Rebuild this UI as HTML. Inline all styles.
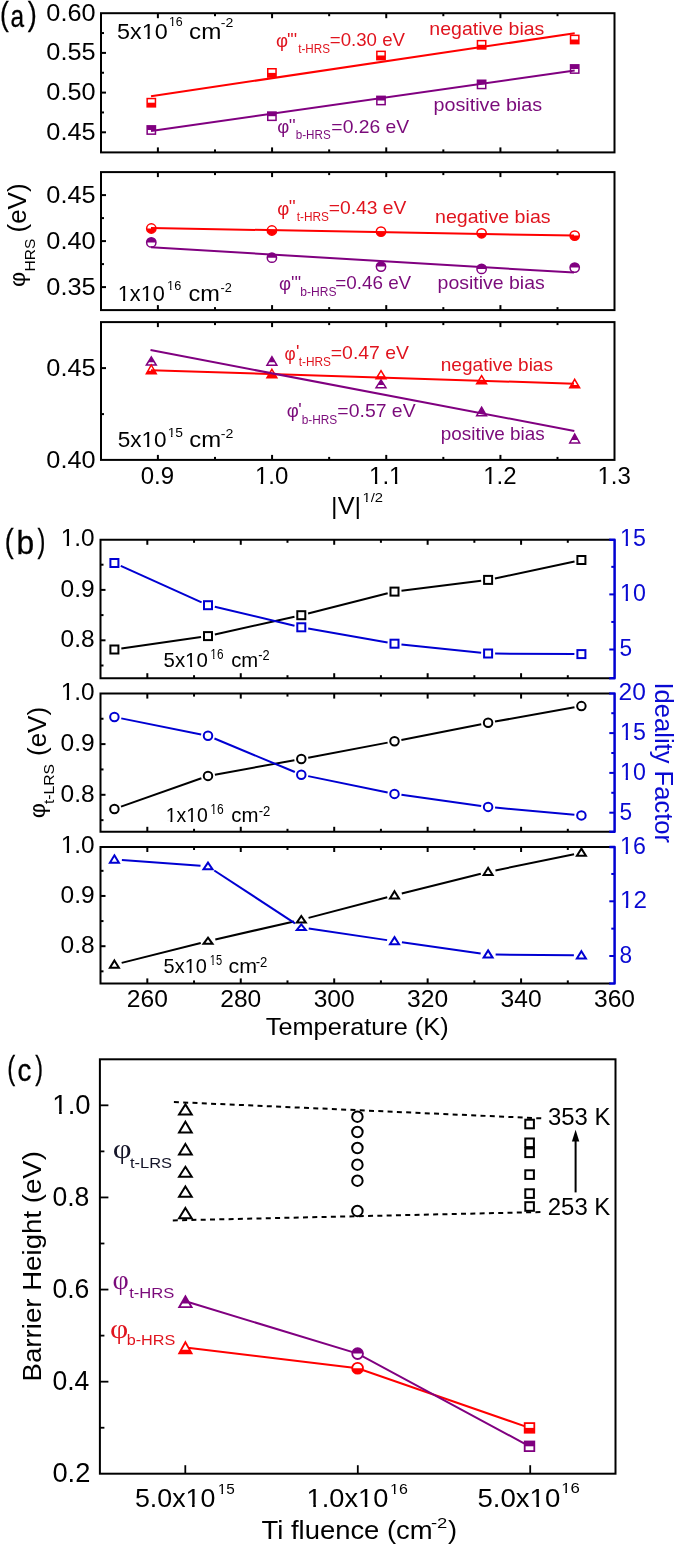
<!DOCTYPE html>
<html><head><meta charset="utf-8"><title>figure</title>
<style>html,body{margin:0;padding:0;background:#fff;} svg{display:block;will-change:transform;}</style></head>
<body><svg width="675" height="1546" viewBox="0 0 675 1546">
<rect x="0" y="0" width="675" height="1546" fill="#fff"/>
<line x1="101.00" y1="52.90" x2="106.00" y2="52.90" stroke="#000" stroke-width="2" />
<line x1="101.00" y1="92.60" x2="106.00" y2="92.60" stroke="#000" stroke-width="2" />
<line x1="101.00" y1="132.30" x2="106.00" y2="132.30" stroke="#000" stroke-width="2" />
<line x1="101.00" y1="33.05" x2="104.00" y2="33.05" stroke="#000" stroke-width="2" />
<line x1="101.00" y1="72.75" x2="104.00" y2="72.75" stroke="#000" stroke-width="2" />
<line x1="101.00" y1="112.45" x2="104.00" y2="112.45" stroke="#000" stroke-width="2" />
<line x1="157.89" y1="152.40" x2="157.89" y2="147.40" stroke="#000" stroke-width="2" />
<line x1="157.89" y1="13.20" x2="157.89" y2="18.20" stroke="#000" stroke-width="2" />
<line x1="272.07" y1="152.40" x2="272.07" y2="147.40" stroke="#000" stroke-width="2" />
<line x1="272.07" y1="13.20" x2="272.07" y2="18.20" stroke="#000" stroke-width="2" />
<line x1="386.24" y1="152.40" x2="386.24" y2="147.40" stroke="#000" stroke-width="2" />
<line x1="386.24" y1="13.20" x2="386.24" y2="18.20" stroke="#000" stroke-width="2" />
<line x1="500.42" y1="152.40" x2="500.42" y2="147.40" stroke="#000" stroke-width="2" />
<line x1="500.42" y1="13.20" x2="500.42" y2="18.20" stroke="#000" stroke-width="2" />
<line x1="214.98" y1="152.40" x2="214.98" y2="149.40" stroke="#000" stroke-width="2" />
<line x1="214.98" y1="13.20" x2="214.98" y2="16.20" stroke="#000" stroke-width="2" />
<line x1="329.16" y1="152.40" x2="329.16" y2="149.40" stroke="#000" stroke-width="2" />
<line x1="329.16" y1="13.20" x2="329.16" y2="16.20" stroke="#000" stroke-width="2" />
<line x1="443.33" y1="152.40" x2="443.33" y2="149.40" stroke="#000" stroke-width="2" />
<line x1="443.33" y1="13.20" x2="443.33" y2="16.20" stroke="#000" stroke-width="2" />
<line x1="557.51" y1="152.40" x2="557.51" y2="149.40" stroke="#000" stroke-width="2" />
<line x1="557.51" y1="13.20" x2="557.51" y2="16.20" stroke="#000" stroke-width="2" />
<line x1="101.00" y1="195.10" x2="106.00" y2="195.10" stroke="#000" stroke-width="2" />
<line x1="101.00" y1="241.10" x2="106.00" y2="241.10" stroke="#000" stroke-width="2" />
<line x1="101.00" y1="287.10" x2="106.00" y2="287.10" stroke="#000" stroke-width="2" />
<line x1="101.00" y1="218.10" x2="104.00" y2="218.10" stroke="#000" stroke-width="2" />
<line x1="101.00" y1="264.10" x2="104.00" y2="264.10" stroke="#000" stroke-width="2" />
<line x1="157.89" y1="310.10" x2="157.89" y2="305.10" stroke="#000" stroke-width="2" />
<line x1="157.89" y1="172.10" x2="157.89" y2="177.10" stroke="#000" stroke-width="2" />
<line x1="272.07" y1="310.10" x2="272.07" y2="305.10" stroke="#000" stroke-width="2" />
<line x1="272.07" y1="172.10" x2="272.07" y2="177.10" stroke="#000" stroke-width="2" />
<line x1="386.24" y1="310.10" x2="386.24" y2="305.10" stroke="#000" stroke-width="2" />
<line x1="386.24" y1="172.10" x2="386.24" y2="177.10" stroke="#000" stroke-width="2" />
<line x1="500.42" y1="310.10" x2="500.42" y2="305.10" stroke="#000" stroke-width="2" />
<line x1="500.42" y1="172.10" x2="500.42" y2="177.10" stroke="#000" stroke-width="2" />
<line x1="214.98" y1="310.10" x2="214.98" y2="307.10" stroke="#000" stroke-width="2" />
<line x1="214.98" y1="172.10" x2="214.98" y2="175.10" stroke="#000" stroke-width="2" />
<line x1="329.16" y1="310.10" x2="329.16" y2="307.10" stroke="#000" stroke-width="2" />
<line x1="329.16" y1="172.10" x2="329.16" y2="175.10" stroke="#000" stroke-width="2" />
<line x1="443.33" y1="310.10" x2="443.33" y2="307.10" stroke="#000" stroke-width="2" />
<line x1="443.33" y1="172.10" x2="443.33" y2="175.10" stroke="#000" stroke-width="2" />
<line x1="557.51" y1="310.10" x2="557.51" y2="307.10" stroke="#000" stroke-width="2" />
<line x1="557.51" y1="172.10" x2="557.51" y2="175.10" stroke="#000" stroke-width="2" />
<line x1="101.00" y1="368.10" x2="106.00" y2="368.10" stroke="#000" stroke-width="2" />
<line x1="101.00" y1="414.10" x2="104.00" y2="414.10" stroke="#000" stroke-width="2" />
<line x1="157.89" y1="459.90" x2="157.89" y2="454.90" stroke="#000" stroke-width="2" />
<line x1="157.89" y1="322.10" x2="157.89" y2="327.10" stroke="#000" stroke-width="2" />
<line x1="272.07" y1="459.90" x2="272.07" y2="454.90" stroke="#000" stroke-width="2" />
<line x1="272.07" y1="322.10" x2="272.07" y2="327.10" stroke="#000" stroke-width="2" />
<line x1="386.24" y1="459.90" x2="386.24" y2="454.90" stroke="#000" stroke-width="2" />
<line x1="386.24" y1="322.10" x2="386.24" y2="327.10" stroke="#000" stroke-width="2" />
<line x1="500.42" y1="459.90" x2="500.42" y2="454.90" stroke="#000" stroke-width="2" />
<line x1="500.42" y1="322.10" x2="500.42" y2="327.10" stroke="#000" stroke-width="2" />
<line x1="214.98" y1="459.90" x2="214.98" y2="456.90" stroke="#000" stroke-width="2" />
<line x1="214.98" y1="322.10" x2="214.98" y2="325.10" stroke="#000" stroke-width="2" />
<line x1="329.16" y1="459.90" x2="329.16" y2="456.90" stroke="#000" stroke-width="2" />
<line x1="329.16" y1="322.10" x2="329.16" y2="325.10" stroke="#000" stroke-width="2" />
<line x1="443.33" y1="459.90" x2="443.33" y2="456.90" stroke="#000" stroke-width="2" />
<line x1="443.33" y1="322.10" x2="443.33" y2="325.10" stroke="#000" stroke-width="2" />
<line x1="557.51" y1="459.90" x2="557.51" y2="456.90" stroke="#000" stroke-width="2" />
<line x1="557.51" y1="322.10" x2="557.51" y2="325.10" stroke="#000" stroke-width="2" />
<rect x="147.15" y="98.55" width="8.30" height="8.30" fill="#fff" stroke="none"/>
<rect x="147.15" y="102.70" width="8.30" height="4.15" fill="#ff0000"/>
<rect x="147.15" y="98.55" width="8.30" height="8.30" fill="none" stroke="#ff0000" stroke-width="1.5"/>
<rect x="267.75" y="68.75" width="8.30" height="8.30" fill="#fff" stroke="none"/>
<rect x="267.75" y="72.90" width="8.30" height="4.15" fill="#ff0000"/>
<rect x="267.75" y="68.75" width="8.30" height="8.30" fill="none" stroke="#ff0000" stroke-width="1.5"/>
<rect x="376.85" y="51.35" width="8.30" height="8.30" fill="#fff" stroke="none"/>
<rect x="376.85" y="55.50" width="8.30" height="4.15" fill="#ff0000"/>
<rect x="376.85" y="51.35" width="8.30" height="8.30" fill="none" stroke="#ff0000" stroke-width="1.5"/>
<rect x="477.45" y="40.65" width="8.30" height="8.30" fill="#fff" stroke="none"/>
<rect x="477.45" y="44.80" width="8.30" height="4.15" fill="#ff0000"/>
<rect x="477.45" y="40.65" width="8.30" height="8.30" fill="none" stroke="#ff0000" stroke-width="1.5"/>
<rect x="570.55" y="35.35" width="8.30" height="8.30" fill="#fff" stroke="none"/>
<rect x="570.55" y="39.50" width="8.30" height="4.15" fill="#ff0000"/>
<rect x="570.55" y="35.35" width="8.30" height="8.30" fill="none" stroke="#ff0000" stroke-width="1.5"/>
<rect x="147.15" y="125.85" width="8.30" height="8.30" fill="#fff" stroke="none"/>
<rect x="147.15" y="125.85" width="8.30" height="4.15" fill="#800080"/>
<rect x="147.15" y="125.85" width="8.30" height="8.30" fill="none" stroke="#800080" stroke-width="1.5"/>
<rect x="267.75" y="112.05" width="8.30" height="8.30" fill="#fff" stroke="none"/>
<rect x="267.75" y="112.05" width="8.30" height="4.15" fill="#800080"/>
<rect x="267.75" y="112.05" width="8.30" height="8.30" fill="none" stroke="#800080" stroke-width="1.5"/>
<rect x="376.85" y="96.35" width="8.30" height="8.30" fill="#fff" stroke="none"/>
<rect x="376.85" y="96.35" width="8.30" height="4.15" fill="#800080"/>
<rect x="376.85" y="96.35" width="8.30" height="8.30" fill="none" stroke="#800080" stroke-width="1.5"/>
<rect x="477.45" y="80.25" width="8.30" height="8.30" fill="#fff" stroke="none"/>
<rect x="477.45" y="80.25" width="8.30" height="4.15" fill="#800080"/>
<rect x="477.45" y="80.25" width="8.30" height="8.30" fill="none" stroke="#800080" stroke-width="1.5"/>
<rect x="570.55" y="64.85" width="8.30" height="8.30" fill="#fff" stroke="none"/>
<rect x="570.55" y="64.85" width="8.30" height="4.15" fill="#800080"/>
<rect x="570.55" y="64.85" width="8.30" height="8.30" fill="none" stroke="#800080" stroke-width="1.5"/>
<line x1="151.00" y1="96.20" x2="574.70" y2="33.20" stroke="#ff0000" stroke-width="2" />
<line x1="151.00" y1="131.00" x2="574.70" y2="70.40" stroke="#800080" stroke-width="2" />
<circle cx="151.30" cy="228.50" r="4.65" fill="#fff"/>
<path d="M146.65,228.50 A4.65,4.65 0 0 0 155.95,228.50 Z" fill="#ff0000"/>
<circle cx="151.30" cy="228.50" r="4.65" fill="none" stroke="#ff0000" stroke-width="1.5"/>
<circle cx="271.90" cy="230.50" r="4.65" fill="#fff"/>
<path d="M267.25,230.50 A4.65,4.65 0 0 0 276.55,230.50 Z" fill="#ff0000"/>
<circle cx="271.90" cy="230.50" r="4.65" fill="none" stroke="#ff0000" stroke-width="1.5"/>
<circle cx="381.00" cy="231.60" r="4.65" fill="#fff"/>
<path d="M376.35,231.60 A4.65,4.65 0 0 0 385.65,231.60 Z" fill="#ff0000"/>
<circle cx="381.00" cy="231.60" r="4.65" fill="none" stroke="#ff0000" stroke-width="1.5"/>
<circle cx="481.60" cy="233.30" r="4.65" fill="#fff"/>
<path d="M476.95,233.30 A4.65,4.65 0 0 0 486.25,233.30 Z" fill="#ff0000"/>
<circle cx="481.60" cy="233.30" r="4.65" fill="none" stroke="#ff0000" stroke-width="1.5"/>
<circle cx="574.70" cy="235.60" r="4.65" fill="#fff"/>
<path d="M570.05,235.60 A4.65,4.65 0 0 0 579.35,235.60 Z" fill="#ff0000"/>
<circle cx="574.70" cy="235.60" r="4.65" fill="none" stroke="#ff0000" stroke-width="1.5"/>
<circle cx="151.30" cy="242.40" r="4.65" fill="#fff"/>
<path d="M146.65,242.40 A4.65,4.65 0 0 1 155.95,242.40 Z" fill="#800080"/>
<circle cx="151.30" cy="242.40" r="4.65" fill="none" stroke="#800080" stroke-width="1.5"/>
<circle cx="271.90" cy="257.70" r="4.65" fill="#fff"/>
<path d="M267.25,257.70 A4.65,4.65 0 0 1 276.55,257.70 Z" fill="#800080"/>
<circle cx="271.90" cy="257.70" r="4.65" fill="none" stroke="#800080" stroke-width="1.5"/>
<circle cx="381.00" cy="266.60" r="4.65" fill="#fff"/>
<path d="M376.35,266.60 A4.65,4.65 0 0 1 385.65,266.60 Z" fill="#800080"/>
<circle cx="381.00" cy="266.60" r="4.65" fill="none" stroke="#800080" stroke-width="1.5"/>
<circle cx="481.60" cy="268.90" r="4.65" fill="#fff"/>
<path d="M476.95,268.90 A4.65,4.65 0 0 1 486.25,268.90 Z" fill="#800080"/>
<circle cx="481.60" cy="268.90" r="4.65" fill="none" stroke="#800080" stroke-width="1.5"/>
<circle cx="574.70" cy="267.60" r="4.65" fill="#fff"/>
<path d="M570.05,267.60 A4.65,4.65 0 0 1 579.35,267.60 Z" fill="#800080"/>
<circle cx="574.70" cy="267.60" r="4.65" fill="none" stroke="#800080" stroke-width="1.5"/>
<line x1="151.00" y1="228.00" x2="574.00" y2="235.60" stroke="#ff0000" stroke-width="2" />
<line x1="151.00" y1="247.30" x2="574.00" y2="272.60" stroke="#800080" stroke-width="2" />
<polygon points="151.30,357.00 156.25,365.05 146.35,365.05" fill="#fff"/>
<polygon points="151.30,357.00 154.60,362.37 148.00,362.37" fill="#800080"/>
<polygon points="151.30,357.00 156.25,365.05 146.35,365.05" fill="none" stroke="#800080" stroke-width="1.5" stroke-linejoin="miter"/>
<polygon points="271.90,356.70 276.85,365.15 266.95,365.15" fill="#fff"/>
<polygon points="271.90,356.70 275.20,362.33 268.60,362.33" fill="#800080"/>
<polygon points="271.90,356.70 276.85,365.15 266.95,365.15" fill="none" stroke="#800080" stroke-width="1.5" stroke-linejoin="miter"/>
<polygon points="381.00,379.90 385.95,387.65 376.05,387.65" fill="#fff"/>
<polygon points="381.00,379.90 384.30,385.07 377.70,385.07" fill="#800080"/>
<polygon points="381.00,379.90 385.95,387.65 376.05,387.65" fill="none" stroke="#800080" stroke-width="1.5" stroke-linejoin="miter"/>
<polygon points="481.60,407.20 486.55,415.85 476.65,415.85" fill="#fff"/>
<polygon points="481.60,407.20 484.90,412.97 478.30,412.97" fill="#800080"/>
<polygon points="481.60,407.20 486.55,415.85 476.65,415.85" fill="none" stroke="#800080" stroke-width="1.5" stroke-linejoin="miter"/>
<polygon points="574.70,434.00 579.65,442.95 569.75,442.95" fill="#fff"/>
<polygon points="574.70,434.00 578.00,439.97 571.40,439.97" fill="#800080"/>
<polygon points="574.70,434.00 579.65,442.95 569.75,442.95" fill="none" stroke="#800080" stroke-width="1.5" stroke-linejoin="miter"/>
<polygon points="151.30,365.00 156.25,373.65 146.35,373.65" fill="#fff"/>
<polygon points="148.00,370.77 154.60,370.77 156.25,373.65 146.35,373.65" fill="#ff0000"/>
<polygon points="151.30,365.00 156.25,373.65 146.35,373.65" fill="none" stroke="#ff0000" stroke-width="1.5" stroke-linejoin="miter"/>
<polygon points="271.90,369.30 276.85,377.65 266.95,377.65" fill="#fff"/>
<polygon points="268.60,374.87 275.20,374.87 276.85,377.65 266.95,377.65" fill="#ff0000"/>
<polygon points="271.90,369.30 276.85,377.65 266.95,377.65" fill="none" stroke="#ff0000" stroke-width="1.5" stroke-linejoin="miter"/>
<polygon points="381.00,370.70 385.95,378.85 376.05,378.85" fill="#fff"/>
<polygon points="377.70,376.13 384.30,376.13 385.95,378.85 376.05,378.85" fill="#ff0000"/>
<polygon points="381.00,370.70 385.95,378.85 376.05,378.85" fill="none" stroke="#ff0000" stroke-width="1.5" stroke-linejoin="miter"/>
<polygon points="481.60,375.70 486.55,383.85 476.65,383.85" fill="#fff"/>
<polygon points="478.30,381.13 484.90,381.13 486.55,383.85 476.65,383.85" fill="#ff0000"/>
<polygon points="481.60,375.70 486.55,383.85 476.65,383.85" fill="none" stroke="#ff0000" stroke-width="1.5" stroke-linejoin="miter"/>
<polygon points="574.70,379.30 579.65,387.85 569.75,387.85" fill="#fff"/>
<polygon points="571.40,385.00 578.00,385.00 579.65,387.85 569.75,387.85" fill="#ff0000"/>
<polygon points="574.70,379.30 579.65,387.85 569.75,387.85" fill="none" stroke="#ff0000" stroke-width="1.5" stroke-linejoin="miter"/>
<line x1="151.00" y1="370.20" x2="574.00" y2="383.70" stroke="#ff0000" stroke-width="2" />
<line x1="150.50" y1="350.10" x2="574.30" y2="431.00" stroke="#800080" stroke-width="2" />
<rect x="101.00" y="13.20" width="513.50" height="139.20" fill="none" stroke="#000" stroke-width="2"/>
<rect x="101.00" y="172.10" width="513.50" height="138.00" fill="none" stroke="#000" stroke-width="2"/>
<rect x="101.00" y="322.10" width="513.50" height="137.80" fill="none" stroke="#000" stroke-width="2"/>
<text id="yla_phi" transform="translate(25.0,287.0) rotate(-90)" font-size="22" font-family="'Liberation Sans', sans-serif" textLength="15.2" lengthAdjust="spacingAndGlyphs">φ</text>
<text id="yla_sub" transform="translate(34.5,271.5) rotate(-90)" font-size="15.5" font-family="'Liberation Sans', sans-serif">HRS</text>
<text id="yla_ev" transform="translate(25.7,232.5) rotate(-90)" font-size="26" font-family="'Liberation Sans', sans-serif">(eV)</text>
<line x1="100.50" y1="589.90" x2="105.50" y2="589.90" stroke="#000" stroke-width="2" />
<line x1="100.50" y1="640.30" x2="105.50" y2="640.30" stroke="#000" stroke-width="2" />
<line x1="100.50" y1="564.70" x2="103.50" y2="564.70" stroke="#000" stroke-width="2" />
<line x1="100.50" y1="615.10" x2="103.50" y2="615.10" stroke="#000" stroke-width="2" />
<line x1="100.50" y1="665.50" x2="103.50" y2="665.50" stroke="#000" stroke-width="2" />
<line x1="614.30" y1="594.40" x2="609.30" y2="594.40" stroke="#0000d2" stroke-width="2" />
<line x1="614.30" y1="649.50" x2="609.30" y2="649.50" stroke="#0000d2" stroke-width="2" />
<line x1="614.30" y1="566.85" x2="611.30" y2="566.85" stroke="#0000d2" stroke-width="2" />
<line x1="614.30" y1="621.95" x2="611.30" y2="621.95" stroke="#0000d2" stroke-width="2" />
<line x1="147.32" y1="678.20" x2="147.32" y2="673.20" stroke="#000" stroke-width="2" />
<line x1="147.32" y1="539.80" x2="147.32" y2="544.80" stroke="#000" stroke-width="2" />
<line x1="240.76" y1="678.20" x2="240.76" y2="673.20" stroke="#000" stroke-width="2" />
<line x1="240.76" y1="539.80" x2="240.76" y2="544.80" stroke="#000" stroke-width="2" />
<line x1="334.20" y1="678.20" x2="334.20" y2="673.20" stroke="#000" stroke-width="2" />
<line x1="334.20" y1="539.80" x2="334.20" y2="544.80" stroke="#000" stroke-width="2" />
<line x1="427.64" y1="678.20" x2="427.64" y2="673.20" stroke="#000" stroke-width="2" />
<line x1="427.64" y1="539.80" x2="427.64" y2="544.80" stroke="#000" stroke-width="2" />
<line x1="521.08" y1="678.20" x2="521.08" y2="673.20" stroke="#000" stroke-width="2" />
<line x1="521.08" y1="539.80" x2="521.08" y2="544.80" stroke="#000" stroke-width="2" />
<line x1="194.04" y1="678.20" x2="194.04" y2="675.20" stroke="#000" stroke-width="2" />
<line x1="194.04" y1="539.80" x2="194.04" y2="542.80" stroke="#000" stroke-width="2" />
<line x1="287.48" y1="678.20" x2="287.48" y2="675.20" stroke="#000" stroke-width="2" />
<line x1="287.48" y1="539.80" x2="287.48" y2="542.80" stroke="#000" stroke-width="2" />
<line x1="380.92" y1="678.20" x2="380.92" y2="675.20" stroke="#000" stroke-width="2" />
<line x1="380.92" y1="539.80" x2="380.92" y2="542.80" stroke="#000" stroke-width="2" />
<line x1="474.36" y1="678.20" x2="474.36" y2="675.20" stroke="#000" stroke-width="2" />
<line x1="474.36" y1="539.80" x2="474.36" y2="542.80" stroke="#000" stroke-width="2" />
<line x1="567.80" y1="678.20" x2="567.80" y2="675.20" stroke="#000" stroke-width="2" />
<line x1="567.80" y1="539.80" x2="567.80" y2="542.80" stroke="#000" stroke-width="2" />
<line x1="100.50" y1="744.10" x2="105.50" y2="744.10" stroke="#000" stroke-width="2" />
<line x1="100.50" y1="794.80" x2="105.50" y2="794.80" stroke="#000" stroke-width="2" />
<line x1="100.50" y1="718.75" x2="103.50" y2="718.75" stroke="#000" stroke-width="2" />
<line x1="100.50" y1="769.45" x2="103.50" y2="769.45" stroke="#000" stroke-width="2" />
<line x1="100.50" y1="820.15" x2="103.50" y2="820.15" stroke="#000" stroke-width="2" />
<line x1="614.30" y1="733.10" x2="609.30" y2="733.10" stroke="#0000d2" stroke-width="2" />
<line x1="614.30" y1="772.90" x2="609.30" y2="772.90" stroke="#0000d2" stroke-width="2" />
<line x1="614.30" y1="812.70" x2="609.30" y2="812.70" stroke="#0000d2" stroke-width="2" />
<line x1="614.30" y1="713.20" x2="611.30" y2="713.20" stroke="#0000d2" stroke-width="2" />
<line x1="614.30" y1="753.00" x2="611.30" y2="753.00" stroke="#0000d2" stroke-width="2" />
<line x1="614.30" y1="792.80" x2="611.30" y2="792.80" stroke="#0000d2" stroke-width="2" />
<line x1="147.32" y1="831.80" x2="147.32" y2="826.80" stroke="#000" stroke-width="2" />
<line x1="147.32" y1="693.60" x2="147.32" y2="698.60" stroke="#000" stroke-width="2" />
<line x1="240.76" y1="831.80" x2="240.76" y2="826.80" stroke="#000" stroke-width="2" />
<line x1="240.76" y1="693.60" x2="240.76" y2="698.60" stroke="#000" stroke-width="2" />
<line x1="334.20" y1="831.80" x2="334.20" y2="826.80" stroke="#000" stroke-width="2" />
<line x1="334.20" y1="693.60" x2="334.20" y2="698.60" stroke="#000" stroke-width="2" />
<line x1="427.64" y1="831.80" x2="427.64" y2="826.80" stroke="#000" stroke-width="2" />
<line x1="427.64" y1="693.60" x2="427.64" y2="698.60" stroke="#000" stroke-width="2" />
<line x1="521.08" y1="831.80" x2="521.08" y2="826.80" stroke="#000" stroke-width="2" />
<line x1="521.08" y1="693.60" x2="521.08" y2="698.60" stroke="#000" stroke-width="2" />
<line x1="194.04" y1="831.80" x2="194.04" y2="828.80" stroke="#000" stroke-width="2" />
<line x1="194.04" y1="693.60" x2="194.04" y2="696.60" stroke="#000" stroke-width="2" />
<line x1="287.48" y1="831.80" x2="287.48" y2="828.80" stroke="#000" stroke-width="2" />
<line x1="287.48" y1="693.60" x2="287.48" y2="696.60" stroke="#000" stroke-width="2" />
<line x1="380.92" y1="831.80" x2="380.92" y2="828.80" stroke="#000" stroke-width="2" />
<line x1="380.92" y1="693.60" x2="380.92" y2="696.60" stroke="#000" stroke-width="2" />
<line x1="474.36" y1="831.80" x2="474.36" y2="828.80" stroke="#000" stroke-width="2" />
<line x1="474.36" y1="693.60" x2="474.36" y2="696.60" stroke="#000" stroke-width="2" />
<line x1="567.80" y1="831.80" x2="567.80" y2="828.80" stroke="#000" stroke-width="2" />
<line x1="567.80" y1="693.60" x2="567.80" y2="696.60" stroke="#000" stroke-width="2" />
<line x1="100.50" y1="895.95" x2="105.50" y2="895.95" stroke="#000" stroke-width="2" />
<line x1="100.50" y1="946.20" x2="105.50" y2="946.20" stroke="#000" stroke-width="2" />
<line x1="100.50" y1="870.83" x2="103.50" y2="870.83" stroke="#000" stroke-width="2" />
<line x1="100.50" y1="921.08" x2="103.50" y2="921.08" stroke="#000" stroke-width="2" />
<line x1="100.50" y1="971.33" x2="103.50" y2="971.33" stroke="#000" stroke-width="2" />
<line x1="614.30" y1="901.30" x2="609.30" y2="901.30" stroke="#0000d2" stroke-width="2" />
<line x1="614.30" y1="956.00" x2="609.30" y2="956.00" stroke="#0000d2" stroke-width="2" />
<line x1="614.30" y1="873.95" x2="611.30" y2="873.95" stroke="#0000d2" stroke-width="2" />
<line x1="614.30" y1="928.65" x2="611.30" y2="928.65" stroke="#0000d2" stroke-width="2" />
<line x1="147.32" y1="983.40" x2="147.32" y2="978.40" stroke="#000" stroke-width="2" />
<line x1="147.32" y1="847.00" x2="147.32" y2="852.00" stroke="#000" stroke-width="2" />
<line x1="240.76" y1="983.40" x2="240.76" y2="978.40" stroke="#000" stroke-width="2" />
<line x1="240.76" y1="847.00" x2="240.76" y2="852.00" stroke="#000" stroke-width="2" />
<line x1="334.20" y1="983.40" x2="334.20" y2="978.40" stroke="#000" stroke-width="2" />
<line x1="334.20" y1="847.00" x2="334.20" y2="852.00" stroke="#000" stroke-width="2" />
<line x1="427.64" y1="983.40" x2="427.64" y2="978.40" stroke="#000" stroke-width="2" />
<line x1="427.64" y1="847.00" x2="427.64" y2="852.00" stroke="#000" stroke-width="2" />
<line x1="521.08" y1="983.40" x2="521.08" y2="978.40" stroke="#000" stroke-width="2" />
<line x1="521.08" y1="847.00" x2="521.08" y2="852.00" stroke="#000" stroke-width="2" />
<line x1="194.04" y1="983.40" x2="194.04" y2="980.40" stroke="#000" stroke-width="2" />
<line x1="194.04" y1="847.00" x2="194.04" y2="850.00" stroke="#000" stroke-width="2" />
<line x1="287.48" y1="983.40" x2="287.48" y2="980.40" stroke="#000" stroke-width="2" />
<line x1="287.48" y1="847.00" x2="287.48" y2="850.00" stroke="#000" stroke-width="2" />
<line x1="380.92" y1="983.40" x2="380.92" y2="980.40" stroke="#000" stroke-width="2" />
<line x1="380.92" y1="847.00" x2="380.92" y2="850.00" stroke="#000" stroke-width="2" />
<line x1="474.36" y1="983.40" x2="474.36" y2="980.40" stroke="#000" stroke-width="2" />
<line x1="474.36" y1="847.00" x2="474.36" y2="850.00" stroke="#000" stroke-width="2" />
<line x1="567.80" y1="983.40" x2="567.80" y2="980.40" stroke="#000" stroke-width="2" />
<line x1="567.80" y1="847.00" x2="567.80" y2="850.00" stroke="#000" stroke-width="2" />
<line x1="121.33" y1="648.51" x2="201.07" y2="637.09" stroke="#000" stroke-width="2" />
<line x1="214.83" y1="634.57" x2="294.47" y2="616.73" stroke="#000" stroke-width="2" />
<line x1="308.09" y1="613.48" x2="387.71" y2="593.32" stroke="#000" stroke-width="2" />
<line x1="401.45" y1="590.73" x2="481.15" y2="580.77" stroke="#000" stroke-width="2" />
<line x1="494.95" y1="578.44" x2="574.55" y2="561.46" stroke="#000" stroke-width="2" />
<line x1="120.78" y1="565.88" x2="201.62" y2="602.32" stroke="#0000d2" stroke-width="2" />
<line x1="214.81" y1="606.81" x2="294.49" y2="625.69" stroke="#0000d2" stroke-width="2" />
<line x1="308.19" y1="628.51" x2="387.61" y2="642.49" stroke="#0000d2" stroke-width="2" />
<line x1="401.46" y1="644.43" x2="481.14" y2="652.77" stroke="#0000d2" stroke-width="2" />
<line x1="495.10" y1="653.55" x2="574.40" y2="654.05" stroke="#0000d2" stroke-width="2" />
<rect x="110.40" y="645.50" width="8.00" height="8.00" fill="#fff" stroke="none"/>
<rect x="110.40" y="645.50" width="8.00" height="8.00" fill="none" stroke="#000" stroke-width="2"/>
<rect x="204.00" y="632.10" width="8.00" height="8.00" fill="#fff" stroke="none"/>
<rect x="204.00" y="632.10" width="8.00" height="8.00" fill="none" stroke="#000" stroke-width="2"/>
<rect x="297.30" y="611.20" width="8.00" height="8.00" fill="#fff" stroke="none"/>
<rect x="297.30" y="611.20" width="8.00" height="8.00" fill="none" stroke="#000" stroke-width="2"/>
<rect x="390.50" y="587.60" width="8.00" height="8.00" fill="#fff" stroke="none"/>
<rect x="390.50" y="587.60" width="8.00" height="8.00" fill="none" stroke="#000" stroke-width="2"/>
<rect x="484.10" y="575.90" width="8.00" height="8.00" fill="#fff" stroke="none"/>
<rect x="484.10" y="575.90" width="8.00" height="8.00" fill="none" stroke="#000" stroke-width="2"/>
<rect x="577.40" y="556.00" width="8.00" height="8.00" fill="#fff" stroke="none"/>
<rect x="577.40" y="556.00" width="8.00" height="8.00" fill="none" stroke="#000" stroke-width="2"/>
<rect x="110.40" y="559.00" width="8.00" height="8.00" fill="#fff" stroke="none"/>
<rect x="110.40" y="559.00" width="8.00" height="8.00" fill="none" stroke="#0000d2" stroke-width="2"/>
<rect x="204.00" y="601.20" width="8.00" height="8.00" fill="#fff" stroke="none"/>
<rect x="204.00" y="601.20" width="8.00" height="8.00" fill="none" stroke="#0000d2" stroke-width="2"/>
<rect x="297.30" y="623.30" width="8.00" height="8.00" fill="#fff" stroke="none"/>
<rect x="297.30" y="623.30" width="8.00" height="8.00" fill="none" stroke="#0000d2" stroke-width="2"/>
<rect x="390.50" y="639.70" width="8.00" height="8.00" fill="#fff" stroke="none"/>
<rect x="390.50" y="639.70" width="8.00" height="8.00" fill="none" stroke="#0000d2" stroke-width="2"/>
<rect x="484.10" y="649.50" width="8.00" height="8.00" fill="#fff" stroke="none"/>
<rect x="484.10" y="649.50" width="8.00" height="8.00" fill="none" stroke="#0000d2" stroke-width="2"/>
<rect x="577.40" y="650.10" width="8.00" height="8.00" fill="#fff" stroke="none"/>
<rect x="577.40" y="650.10" width="8.00" height="8.00" fill="none" stroke="#0000d2" stroke-width="2"/>
<line x1="121.00" y1="806.67" x2="201.40" y2="778.23" stroke="#000" stroke-width="2" />
<line x1="214.89" y1="774.65" x2="294.41" y2="760.25" stroke="#000" stroke-width="2" />
<line x1="308.18" y1="757.69" x2="387.62" y2="742.61" stroke="#000" stroke-width="2" />
<line x1="401.37" y1="739.94" x2="481.23" y2="724.16" stroke="#000" stroke-width="2" />
<line x1="494.99" y1="721.57" x2="574.51" y2="707.33" stroke="#000" stroke-width="2" />
<line x1="121.26" y1="718.38" x2="201.14" y2="734.42" stroke="#0000d2" stroke-width="2" />
<line x1="214.46" y1="738.49" x2="294.84" y2="772.01" stroke="#0000d2" stroke-width="2" />
<line x1="308.16" y1="776.11" x2="387.64" y2="792.49" stroke="#0000d2" stroke-width="2" />
<line x1="401.43" y1="794.86" x2="481.17" y2="805.94" stroke="#0000d2" stroke-width="2" />
<line x1="495.07" y1="807.54" x2="574.43" y2="814.76" stroke="#0000d2" stroke-width="2" />
<circle cx="114.40" cy="809.00" r="4.25" fill="#fff"/>
<circle cx="114.40" cy="809.00" r="4.25" fill="none" stroke="#000" stroke-width="2"/>
<circle cx="208.00" cy="775.90" r="4.25" fill="#fff"/>
<circle cx="208.00" cy="775.90" r="4.25" fill="none" stroke="#000" stroke-width="2"/>
<circle cx="301.30" cy="759.00" r="4.25" fill="#fff"/>
<circle cx="301.30" cy="759.00" r="4.25" fill="none" stroke="#000" stroke-width="2"/>
<circle cx="394.50" cy="741.30" r="4.25" fill="#fff"/>
<circle cx="394.50" cy="741.30" r="4.25" fill="none" stroke="#000" stroke-width="2"/>
<circle cx="488.10" cy="722.80" r="4.25" fill="#fff"/>
<circle cx="488.10" cy="722.80" r="4.25" fill="none" stroke="#000" stroke-width="2"/>
<circle cx="581.40" cy="706.10" r="4.25" fill="#fff"/>
<circle cx="581.40" cy="706.10" r="4.25" fill="none" stroke="#000" stroke-width="2"/>
<circle cx="114.40" cy="717.00" r="4.25" fill="#fff"/>
<circle cx="114.40" cy="717.00" r="4.25" fill="none" stroke="#0000d2" stroke-width="2"/>
<circle cx="208.00" cy="735.80" r="4.25" fill="#fff"/>
<circle cx="208.00" cy="735.80" r="4.25" fill="none" stroke="#0000d2" stroke-width="2"/>
<circle cx="301.30" cy="774.70" r="4.25" fill="#fff"/>
<circle cx="301.30" cy="774.70" r="4.25" fill="none" stroke="#0000d2" stroke-width="2"/>
<circle cx="394.50" cy="793.90" r="4.25" fill="#fff"/>
<circle cx="394.50" cy="793.90" r="4.25" fill="none" stroke="#0000d2" stroke-width="2"/>
<circle cx="488.10" cy="806.90" r="4.25" fill="#fff"/>
<circle cx="488.10" cy="806.90" r="4.25" fill="none" stroke="#0000d2" stroke-width="2"/>
<circle cx="581.40" cy="815.40" r="4.25" fill="#fff"/>
<circle cx="581.40" cy="815.40" r="4.25" fill="none" stroke="#0000d2" stroke-width="2"/>
<line x1="121.67" y1="962.85" x2="200.73" y2="942.99" stroke="#000" stroke-width="2" />
<line x1="215.31" y1="939.48" x2="293.99" y2="921.44" stroke="#000" stroke-width="2" />
<line x1="308.55" y1="917.86" x2="387.25" y2="897.22" stroke="#000" stroke-width="2" />
<line x1="401.78" y1="893.50" x2="480.82" y2="873.74" stroke="#000" stroke-width="2" />
<line x1="495.45" y1="870.41" x2="574.05" y2="854.23" stroke="#000" stroke-width="2" />
<line x1="121.88" y1="860.09" x2="200.52" y2="865.81" stroke="#0000d2" stroke-width="2" />
<line x1="214.27" y1="870.47" x2="295.03" y2="923.35" stroke="#0000d2" stroke-width="2" />
<line x1="308.72" y1="928.56" x2="387.08" y2="940.12" stroke="#0000d2" stroke-width="2" />
<line x1="401.93" y1="942.28" x2="480.67" y2="953.46" stroke="#0000d2" stroke-width="2" />
<line x1="495.60" y1="954.58" x2="573.90" y2="955.26" stroke="#0000d2" stroke-width="2" />
<polygon points="114.40,960.50 118.90,967.80 109.90,967.80" fill="#fff"/>
<polygon points="114.40,960.50 118.90,967.80 109.90,967.80" fill="none" stroke="#000" stroke-width="2" stroke-linejoin="miter"/>
<polygon points="208.00,937.70 212.50,943.80 203.50,943.80" fill="#fff"/>
<polygon points="208.00,937.70 212.50,943.80 203.50,943.80" fill="none" stroke="#000" stroke-width="2" stroke-linejoin="miter"/>
<polygon points="301.30,916.00 305.80,922.60 296.80,922.60" fill="#fff"/>
<polygon points="301.30,916.00 305.80,922.60 296.80,922.60" fill="none" stroke="#000" stroke-width="2" stroke-linejoin="miter"/>
<polygon points="394.50,891.20 399.00,898.40 390.00,898.40" fill="#fff"/>
<polygon points="394.50,891.20 399.00,898.40 390.00,898.40" fill="none" stroke="#000" stroke-width="2" stroke-linejoin="miter"/>
<polygon points="488.10,867.80 492.60,875.00 483.60,875.00" fill="#fff"/>
<polygon points="488.10,867.80 492.60,875.00 483.60,875.00" fill="none" stroke="#000" stroke-width="2" stroke-linejoin="miter"/>
<polygon points="581.40,848.60 585.90,855.80 576.90,855.80" fill="#fff"/>
<polygon points="581.40,848.60 585.90,855.80 576.90,855.80" fill="none" stroke="#000" stroke-width="2" stroke-linejoin="miter"/>
<polygon points="114.40,855.30 118.90,862.70 109.90,862.70" fill="#fff"/>
<polygon points="114.40,855.30 118.90,862.70 109.90,862.70" fill="none" stroke="#0000d2" stroke-width="2" stroke-linejoin="miter"/>
<polygon points="208.00,862.60 212.50,869.20 203.50,869.20" fill="#fff"/>
<polygon points="208.00,862.60 212.50,869.20 203.50,869.20" fill="none" stroke="#0000d2" stroke-width="2" stroke-linejoin="miter"/>
<polygon points="301.30,924.30 305.80,929.90 296.80,929.90" fill="#fff"/>
<polygon points="301.30,924.30 305.80,929.90 296.80,929.90" fill="none" stroke="#0000d2" stroke-width="2" stroke-linejoin="miter"/>
<polygon points="394.50,937.10 399.00,944.30 390.00,944.30" fill="#fff"/>
<polygon points="394.50,937.10 399.00,944.30 390.00,944.30" fill="none" stroke="#0000d2" stroke-width="2" stroke-linejoin="miter"/>
<polygon points="488.10,950.40 492.60,957.60 483.60,957.60" fill="#fff"/>
<polygon points="488.10,950.40 492.60,957.60 483.60,957.60" fill="none" stroke="#0000d2" stroke-width="2" stroke-linejoin="miter"/>
<polygon points="581.40,951.20 585.90,958.40 576.90,958.40" fill="#fff"/>
<polygon points="581.40,951.20 585.90,958.40 576.90,958.40" fill="none" stroke="#0000d2" stroke-width="2" stroke-linejoin="miter"/>
<polyline points="610.30,539.80 100.50,539.80 100.50,678.20 610.30,678.20" fill="none" stroke="#000" stroke-width="2" stroke-linejoin="miter" />
<polyline points="609.30,539.80 614.60,539.80 614.60,678.20 609.30,678.20" fill="none" stroke="#0000d2" stroke-width="2.5" stroke-linejoin="round"/>
<polyline points="610.30,693.60 100.50,693.60 100.50,831.80 610.30,831.80" fill="none" stroke="#000" stroke-width="2" stroke-linejoin="miter" />
<polyline points="609.30,693.60 614.60,693.60 614.60,831.80 609.30,831.80" fill="none" stroke="#0000d2" stroke-width="2.5" stroke-linejoin="round"/>
<polyline points="610.30,847.00 100.50,847.00 100.50,983.40 610.30,983.40" fill="none" stroke="#000" stroke-width="2" stroke-linejoin="miter" />
<polyline points="609.30,847.00 614.60,847.00 614.60,983.40 609.30,983.40" fill="none" stroke="#0000d2" stroke-width="2.5" stroke-linejoin="round"/>
<text id="ylb_phi" transform="translate(45.0,818.3) rotate(-90)" font-size="22" font-family="'Liberation Sans', sans-serif" textLength="15.2" lengthAdjust="spacingAndGlyphs">φ</text>
<text id="ylb_sub" transform="translate(54.3,804.0) rotate(-90)" font-size="15.5" font-family="'Liberation Sans', sans-serif" textLength="40.0" lengthAdjust="spacingAndGlyphs">t-LRS</text>
<text id="ylb_ev" transform="translate(45.5,756) rotate(-90)" font-size="26" font-family="'Liberation Sans', sans-serif">(eV)</text>
<text id="idf" transform="translate(654.6,682.5) rotate(90)" font-size="25" font-family="'Liberation Sans', sans-serif" fill="#0a0ad2" textLength="160.5" lengthAdjust="spacingAndGlyphs">Ideality Factor</text>
<line x1="99.90" y1="1381.68" x2="108.40" y2="1381.68" stroke="#000" stroke-width="1.8" />
<line x1="99.90" y1="1289.56" x2="108.40" y2="1289.56" stroke="#000" stroke-width="1.8" />
<line x1="99.90" y1="1197.44" x2="108.40" y2="1197.44" stroke="#000" stroke-width="1.8" />
<line x1="99.90" y1="1105.32" x2="108.40" y2="1105.32" stroke="#000" stroke-width="1.8" />
<line x1="99.90" y1="1427.74" x2="104.40" y2="1427.74" stroke="#000" stroke-width="1.8" />
<line x1="99.90" y1="1335.62" x2="104.40" y2="1335.62" stroke="#000" stroke-width="1.8" />
<line x1="99.90" y1="1243.50" x2="104.40" y2="1243.50" stroke="#000" stroke-width="1.8" />
<line x1="99.90" y1="1151.38" x2="104.40" y2="1151.38" stroke="#000" stroke-width="1.8" />
<line x1="185.30" y1="1473.70" x2="185.30" y2="1465.20" stroke="#000" stroke-width="1.8" />
<line x1="357.80" y1="1473.70" x2="357.80" y2="1465.20" stroke="#000" stroke-width="1.8" />
<line x1="530.20" y1="1473.70" x2="530.20" y2="1465.20" stroke="#000" stroke-width="1.8" />
<line x1="173.90" y1="1102.00" x2="542.20" y2="1118.40" stroke="#000" stroke-width="2" stroke-dasharray="5 4.3"/>
<line x1="172.80" y1="1220.40" x2="542.00" y2="1212.00" stroke="#000" stroke-width="2" stroke-dasharray="5 4.3"/>
<polygon points="185.40,1104.40 191.75,1114.40 179.05,1114.40" fill="#fff"/>
<polygon points="185.40,1104.40 191.75,1114.40 179.05,1114.40" fill="none" stroke="#000" stroke-width="2" stroke-linejoin="miter"/>
<polygon points="185.40,1121.80 191.75,1132.50 179.05,1132.50" fill="#fff"/>
<polygon points="185.40,1121.80 191.75,1132.50 179.05,1132.50" fill="none" stroke="#000" stroke-width="2" stroke-linejoin="miter"/>
<polygon points="185.40,1144.00 191.75,1154.40 179.05,1154.40" fill="#fff"/>
<polygon points="185.40,1144.00 191.75,1154.40 179.05,1154.40" fill="none" stroke="#000" stroke-width="2" stroke-linejoin="miter"/>
<polygon points="185.40,1166.80 191.75,1176.80 179.05,1176.80" fill="#fff"/>
<polygon points="185.40,1166.80 191.75,1176.80 179.05,1176.80" fill="none" stroke="#000" stroke-width="2" stroke-linejoin="miter"/>
<polygon points="185.40,1186.40 191.75,1196.80 179.05,1196.80" fill="#fff"/>
<polygon points="185.40,1186.40 191.75,1196.80 179.05,1196.80" fill="none" stroke="#000" stroke-width="2" stroke-linejoin="miter"/>
<polygon points="185.40,1207.90 191.75,1218.30 179.05,1218.30" fill="#fff"/>
<polygon points="185.40,1207.90 191.75,1218.30 179.05,1218.30" fill="none" stroke="#000" stroke-width="2" stroke-linejoin="miter"/>
<circle cx="357.40" cy="1116.70" r="5.25" fill="#fff"/>
<circle cx="357.40" cy="1116.70" r="5.25" fill="none" stroke="#000" stroke-width="2"/>
<circle cx="357.40" cy="1132.00" r="5.25" fill="#fff"/>
<circle cx="357.40" cy="1132.00" r="5.25" fill="none" stroke="#000" stroke-width="2"/>
<circle cx="357.40" cy="1148.00" r="5.25" fill="#fff"/>
<circle cx="357.40" cy="1148.00" r="5.25" fill="none" stroke="#000" stroke-width="2"/>
<circle cx="357.40" cy="1164.70" r="5.25" fill="#fff"/>
<circle cx="357.40" cy="1164.70" r="5.25" fill="none" stroke="#000" stroke-width="2"/>
<circle cx="357.40" cy="1180.70" r="5.25" fill="#fff"/>
<circle cx="357.40" cy="1180.70" r="5.25" fill="none" stroke="#000" stroke-width="2"/>
<circle cx="357.40" cy="1210.90" r="5.25" fill="#fff"/>
<circle cx="357.40" cy="1210.90" r="5.25" fill="none" stroke="#000" stroke-width="2"/>
<rect x="525.30" y="1119.70" width="8.60" height="8.60" fill="#fff" stroke="none"/>
<rect x="525.30" y="1119.70" width="8.60" height="8.60" fill="none" stroke="#000" stroke-width="2"/>
<rect x="525.30" y="1138.50" width="8.60" height="8.60" fill="#fff" stroke="none"/>
<rect x="525.30" y="1138.50" width="8.60" height="8.60" fill="none" stroke="#000" stroke-width="2"/>
<rect x="525.30" y="1148.50" width="8.60" height="8.60" fill="#fff" stroke="none"/>
<rect x="525.30" y="1148.50" width="8.60" height="8.60" fill="none" stroke="#000" stroke-width="2"/>
<rect x="525.30" y="1170.30" width="8.60" height="8.60" fill="#fff" stroke="none"/>
<rect x="525.30" y="1170.30" width="8.60" height="8.60" fill="none" stroke="#000" stroke-width="2"/>
<rect x="525.30" y="1189.30" width="8.60" height="8.60" fill="#fff" stroke="none"/>
<rect x="525.30" y="1189.30" width="8.60" height="8.60" fill="none" stroke="#000" stroke-width="2"/>
<rect x="525.30" y="1202.20" width="8.60" height="8.60" fill="#fff" stroke="none"/>
<rect x="525.30" y="1202.20" width="8.60" height="8.60" fill="none" stroke="#000" stroke-width="2"/>
<polyline points="185.50,1347.40 357.60,1368.20 529.50,1427.90" fill="none" stroke="#ff0000" stroke-width="2" stroke-linejoin="miter" />
<polyline points="185.50,1301.30 357.60,1353.60 529.50,1446.30" fill="none" stroke="#800080" stroke-width="2" stroke-linejoin="miter" />
<polygon points="185.40,1296.30 191.63,1307.20 179.17,1307.20" fill="#fff"/>
<polygon points="185.40,1296.30 189.55,1303.57 181.25,1303.57" fill="#800080"/>
<polygon points="185.40,1296.30 191.63,1307.20 179.17,1307.20" fill="none" stroke="#800080" stroke-width="1.8" stroke-linejoin="miter"/>
<polygon points="185.40,1342.20 191.63,1353.40 179.17,1353.40" fill="#fff"/>
<polygon points="181.25,1349.67 189.55,1349.67 191.63,1353.40 179.17,1353.40" fill="#ff0000"/>
<polygon points="185.40,1342.20 191.63,1353.40 179.17,1353.40" fill="none" stroke="#ff0000" stroke-width="1.8" stroke-linejoin="miter"/>
<circle cx="357.60" cy="1353.60" r="5.40" fill="#fff"/>
<path d="M352.20,1353.60 A5.40,5.40 0 0 1 363.00,1353.60 Z" fill="#800080"/>
<circle cx="357.60" cy="1353.60" r="5.40" fill="none" stroke="#800080" stroke-width="1.8"/>
<circle cx="357.60" cy="1368.20" r="5.40" fill="#fff"/>
<path d="M352.20,1368.20 A5.40,5.40 0 0 0 363.00,1368.20 Z" fill="#ff0000"/>
<circle cx="357.60" cy="1368.20" r="5.40" fill="none" stroke="#ff0000" stroke-width="1.8"/>
<rect x="524.70" y="1441.50" width="9.60" height="9.60" fill="#fff" stroke="none"/>
<rect x="524.70" y="1441.50" width="9.60" height="4.80" fill="#800080"/>
<rect x="524.70" y="1441.50" width="9.60" height="9.60" fill="none" stroke="#800080" stroke-width="1.8"/>
<rect x="524.70" y="1423.10" width="9.60" height="9.60" fill="#fff" stroke="none"/>
<rect x="524.70" y="1427.90" width="9.60" height="4.80" fill="#ff0000"/>
<rect x="524.70" y="1423.10" width="9.60" height="9.60" fill="none" stroke="#ff0000" stroke-width="1.8"/>
<rect x="99.90" y="1059.30" width="515.60" height="414.40" fill="none" stroke="#000" stroke-width="2"/>
<line x1="575.60" y1="1192.40" x2="575.60" y2="1139.00" stroke="#000" stroke-width="2" />
<polygon points="575.6,1129.8 579.3,1141.5 571.9,1141.5" fill="#000"/>
<text id="bar" transform="translate(41.3,1381.5) rotate(-90)" font-size="26.5" font-family="'Liberation Sans', sans-serif" textLength="230.5" lengthAdjust="spacingAndGlyphs">Barrier Height (eV)</text>
<text id="a_lp" x="0.00" y="24.70" font-size="33" font-family="'Liberation Sans', sans-serif" fill="#000" textLength="8.80" lengthAdjust="spacingAndGlyphs" stroke="#000" stroke-width="0.3">(</text>
<text id="a_let" x="10.40" y="26.50" font-size="31.4" font-family="'Liberation Sans', sans-serif" fill="#000" textLength="13.59" lengthAdjust="spacingAndGlyphs" stroke="#000" stroke-width="0.3">a</text>
<text id="a_rp" x="27.78" y="24.70" font-size="33" font-family="'Liberation Sans', sans-serif" fill="#000" textLength="9.05" lengthAdjust="spacingAndGlyphs" stroke="#000" stroke-width="0.3">)</text>
<text id="ya0_0.60" x="46.35" y="20.60" font-size="24" font-family="'Liberation Sans', sans-serif" fill="#000" textLength="49.21" lengthAdjust="spacingAndGlyphs">0.60</text>
<text id="ya0_0.55" x="46.35" y="60.30" font-size="24" font-family="'Liberation Sans', sans-serif" fill="#000" textLength="49.21" lengthAdjust="spacingAndGlyphs">0.55</text>
<text id="ya0_0.50" x="46.35" y="100.00" font-size="24" font-family="'Liberation Sans', sans-serif" fill="#000" textLength="49.21" lengthAdjust="spacingAndGlyphs">0.50</text>
<text id="ya0_0.45" x="46.35" y="139.70" font-size="24" font-family="'Liberation Sans', sans-serif" fill="#000" textLength="49.21" lengthAdjust="spacingAndGlyphs">0.45</text>
<text id="ya1_0.45" x="46.35" y="202.50" font-size="24" font-family="'Liberation Sans', sans-serif" fill="#000" textLength="49.21" lengthAdjust="spacingAndGlyphs">0.45</text>
<text id="ya1_0.40" x="46.35" y="248.50" font-size="24" font-family="'Liberation Sans', sans-serif" fill="#000" textLength="49.21" lengthAdjust="spacingAndGlyphs">0.40</text>
<text id="ya1_0.35" x="46.35" y="294.50" font-size="24" font-family="'Liberation Sans', sans-serif" fill="#000" textLength="49.21" lengthAdjust="spacingAndGlyphs">0.35</text>
<text id="ya2_0.45" x="46.35" y="375.50" font-size="24" font-family="'Liberation Sans', sans-serif" fill="#000" textLength="49.21" lengthAdjust="spacingAndGlyphs">0.45</text>
<text id="ya2_0.40" x="46.35" y="467.50" font-size="24" font-family="'Liberation Sans', sans-serif" fill="#000" textLength="49.21" lengthAdjust="spacingAndGlyphs">0.40</text>
<text id="xa_0.9" x="157.39" y="484.30" font-size="24" font-family="'Liberation Sans', sans-serif" fill="#000" text-anchor="middle">0.9</text>
<text id="xa_1.0" x="271.57" y="484.30" font-size="24" font-family="'Liberation Sans', sans-serif" fill="#000" text-anchor="middle">1.0</text>
<text id="xa_1.1" x="385.74" y="484.30" font-size="24" font-family="'Liberation Sans', sans-serif" fill="#000" text-anchor="middle">1.1</text>
<text id="xa_1.2" x="499.92" y="484.30" font-size="24" font-family="'Liberation Sans', sans-serif" fill="#000" text-anchor="middle">1.2</text>
<text id="xa_1.3" x="614.10" y="484.30" font-size="24" font-family="'Liberation Sans', sans-serif" fill="#000" text-anchor="middle">1.3</text>
<text id="a_V" x="331.13" y="514.00" font-size="24.5" font-family="'Liberation Sans', sans-serif" fill="#000" textLength="30.02" lengthAdjust="spacingAndGlyphs">|V|</text>
<text id="a_half" x="362.50" y="501.50" font-size="13.5" font-family="'Liberation Sans', sans-serif" fill="#000" textLength="20.55" lengthAdjust="spacingAndGlyphs">1/2</text>
<text id="a1_main" x="117.12" y="38.50" font-size="21.7" font-family="'Liberation Sans', sans-serif" fill="#000" textLength="50.60" lengthAdjust="spacingAndGlyphs">5x10</text>
<text id="a1_sup" x="168.98" y="26.40" font-size="12.2" font-family="'Liberation Sans', sans-serif" fill="#000" textLength="13.80" lengthAdjust="spacingAndGlyphs">16</text>
<text id="a1_cm" x="189.08" y="38.50" font-size="21.7" font-family="'Liberation Sans', sans-serif" fill="#000" textLength="32.26" lengthAdjust="spacingAndGlyphs">cm</text>
<text id="a1_m2" x="220.83" y="27.00" font-size="12.2" font-family="'Liberation Sans', sans-serif" fill="#000" textLength="12.54" lengthAdjust="spacingAndGlyphs">-2</text>
<text id="a2_main" x="117.80" y="301.20" font-size="21.7" font-family="'Liberation Sans', sans-serif" fill="#000" textLength="47.04" lengthAdjust="spacingAndGlyphs">1x10</text>
<text id="a2_sup" x="167.13" y="290.10" font-size="12.2" font-family="'Liberation Sans', sans-serif" fill="#000" textLength="14.07" lengthAdjust="spacingAndGlyphs">16</text>
<text id="a2_cm" x="188.52" y="301.20" font-size="21.7" font-family="'Liberation Sans', sans-serif" fill="#000" textLength="31.38" lengthAdjust="spacingAndGlyphs">cm</text>
<text id="a2_m2" x="220.47" y="292.00" font-size="12.2" font-family="'Liberation Sans', sans-serif" fill="#000" textLength="11.28" lengthAdjust="spacingAndGlyphs">-2</text>
<text id="a3_main" x="117.75" y="447.20" font-size="21.7" font-family="'Liberation Sans', sans-serif" fill="#000" textLength="48.92" lengthAdjust="spacingAndGlyphs">5x10</text>
<text id="a3_sup" x="167.66" y="436.60" font-size="12.2" font-family="'Liberation Sans', sans-serif" fill="#000" textLength="15.38" lengthAdjust="spacingAndGlyphs">15</text>
<text id="a3_cm" x="189.30" y="447.20" font-size="21.7" font-family="'Liberation Sans', sans-serif" fill="#000" textLength="31.82" lengthAdjust="spacingAndGlyphs">cm</text>
<text id="a3_m2" x="220.81" y="437.60" font-size="12.2" font-family="'Liberation Sans', sans-serif" fill="#000" textLength="12.59" lengthAdjust="spacingAndGlyphs">-2</text>
<text id="p1r_phi" x="276.07" y="46.90" font-size="17.5" font-family="'Liberation Sans', sans-serif" fill="#e0141e" textLength="12.05" lengthAdjust="spacingAndGlyphs">φ</text>
<text id="p1r_pr" x="286.90" y="45.70" font-size="18" font-family="'Liberation Sans', sans-serif" fill="#e0141e">'''</text>
<text id="p1r_sub" x="298.21" y="53.40" font-size="12" font-family="'Liberation Sans', sans-serif" fill="#e0141e" textLength="31.83" lengthAdjust="spacingAndGlyphs">t-HRS</text>
<text id="p1r_val" x="329.81" y="46.30" font-size="19" font-family="'Liberation Sans', sans-serif" fill="#e0141e" textLength="75.18" lengthAdjust="spacingAndGlyphs">=0.30 eV</text>
<text id="p1p_phi" x="277.38" y="133.40" font-size="17.5" font-family="'Liberation Sans', sans-serif" fill="#7a0a7a" textLength="12.05" lengthAdjust="spacingAndGlyphs">φ</text>
<text id="p1p_pr" x="288.80" y="132.20" font-size="18" font-family="'Liberation Sans', sans-serif" fill="#7a0a7a">''</text>
<text id="p1p_sub" x="295.73" y="138.80" font-size="12" font-family="'Liberation Sans', sans-serif" fill="#7a0a7a" textLength="34.96" lengthAdjust="spacingAndGlyphs">b-HRS</text>
<text id="p1p_val" x="331.37" y="132.80" font-size="19" font-family="'Liberation Sans', sans-serif" fill="#7a0a7a" textLength="77.83" lengthAdjust="spacingAndGlyphs">=0.26 eV</text>
<text id="p2r_phi" x="277.38" y="214.60" font-size="17.5" font-family="'Liberation Sans', sans-serif" fill="#e0141e" textLength="12.05" lengthAdjust="spacingAndGlyphs">φ</text>
<text id="p2r_pr" x="288.80" y="213.40" font-size="18" font-family="'Liberation Sans', sans-serif" fill="#e0141e">''</text>
<text id="p2r_sub" x="296.70" y="221.10" font-size="12" font-family="'Liberation Sans', sans-serif" fill="#e0141e" textLength="32.27" lengthAdjust="spacingAndGlyphs">t-HRS</text>
<text id="p2r_val" x="328.79" y="214.00" font-size="19" font-family="'Liberation Sans', sans-serif" fill="#e0141e" textLength="77.62" lengthAdjust="spacingAndGlyphs">=0.43 eV</text>
<text id="p2p_phi" x="278.94" y="290.00" font-size="17.5" font-family="'Liberation Sans', sans-serif" fill="#7a0a7a" textLength="12.05" lengthAdjust="spacingAndGlyphs">φ</text>
<text id="p2p_pr" x="291.00" y="288.80" font-size="18" font-family="'Liberation Sans', sans-serif" fill="#7a0a7a">'''</text>
<text id="p2p_sub" x="300.29" y="296.10" font-size="12" font-family="'Liberation Sans', sans-serif" fill="#7a0a7a" textLength="36.25" lengthAdjust="spacingAndGlyphs">b-HRS</text>
<text id="p2p_val" x="335.20" y="289.40" font-size="19" font-family="'Liberation Sans', sans-serif" fill="#7a0a7a" textLength="76.00" lengthAdjust="spacingAndGlyphs">=0.46 eV</text>
<text id="p3r_phi" x="284.59" y="359.60" font-size="17.5" font-family="'Liberation Sans', sans-serif" fill="#e0141e" textLength="11.16" lengthAdjust="spacingAndGlyphs">φ</text>
<text id="p3r_pr" x="295.90" y="358.40" font-size="18" font-family="'Liberation Sans', sans-serif" fill="#e0141e">'</text>
<text id="p3r_sub" x="298.70" y="365.70" font-size="12" font-family="'Liberation Sans', sans-serif" fill="#e0141e" textLength="32.26" lengthAdjust="spacingAndGlyphs">t-HRS</text>
<text id="p3r_val" x="330.79" y="359.00" font-size="19" font-family="'Liberation Sans', sans-serif" fill="#e0141e" textLength="78.21" lengthAdjust="spacingAndGlyphs">=0.47 eV</text>
<text id="p3p_phi" x="286.87" y="417.40" font-size="17.5" font-family="'Liberation Sans', sans-serif" fill="#7a0a7a" textLength="12.05" lengthAdjust="spacingAndGlyphs">φ</text>
<text id="p3p_pr" x="298.30" y="416.20" font-size="18" font-family="'Liberation Sans', sans-serif" fill="#7a0a7a">'</text>
<text id="p3p_sub" x="301.71" y="423.90" font-size="12" font-family="'Liberation Sans', sans-serif" fill="#7a0a7a" textLength="35.59" lengthAdjust="spacingAndGlyphs">b-HRS</text>
<text id="p3p_val" x="337.36" y="416.80" font-size="19" font-family="'Liberation Sans', sans-serif" fill="#7a0a7a" textLength="78.25" lengthAdjust="spacingAndGlyphs">=0.57 eV</text>
<text id="n1" x="429.37" y="34.50" font-size="19" font-family="'Liberation Sans', sans-serif" fill="#e0141e" textLength="115.02" lengthAdjust="spacingAndGlyphs">negative bias</text>
<text id="q1" x="433.44" y="111.20" font-size="19" font-family="'Liberation Sans', sans-serif" fill="#7a0a7a" textLength="108.67" lengthAdjust="spacingAndGlyphs">positive bias</text>
<text id="n2" x="434.97" y="223.40" font-size="19" font-family="'Liberation Sans', sans-serif" fill="#e0141e" textLength="115.63" lengthAdjust="spacingAndGlyphs">negative bias</text>
<text id="q2" x="437.58" y="289.40" font-size="19" font-family="'Liberation Sans', sans-serif" fill="#7a0a7a" textLength="107.20" lengthAdjust="spacingAndGlyphs">positive bias</text>
<text id="n3" x="440.79" y="370.60" font-size="19" font-family="'Liberation Sans', sans-serif" fill="#e0141e" textLength="112.18" lengthAdjust="spacingAndGlyphs">negative bias</text>
<text id="q3" x="440.81" y="439.90" font-size="19" font-family="'Liberation Sans', sans-serif" fill="#7a0a7a" textLength="103.95" lengthAdjust="spacingAndGlyphs">positive bias</text>
<text id="b_lp" x="4.76" y="551.80" font-size="33.3" font-family="'Liberation Sans', sans-serif" fill="#000" textLength="8.95" lengthAdjust="spacingAndGlyphs" stroke="#000" stroke-width="0.3">(</text>
<text id="b_let" x="16.49" y="553.60" font-size="33.5" font-family="'Liberation Sans', sans-serif" fill="#000" textLength="17.71" lengthAdjust="spacingAndGlyphs" stroke="#000" stroke-width="0.3">b</text>
<text id="b_rp" x="37.59" y="551.80" font-size="33.3" font-family="'Liberation Sans', sans-serif" fill="#000" textLength="7.90" lengthAdjust="spacingAndGlyphs" stroke="#000" stroke-width="0.3">)</text>
<text id="yb0_1.0" x="60.73" y="546.40" font-size="23.6" font-family="'Liberation Sans', sans-serif" fill="#000" textLength="33.91" lengthAdjust="spacingAndGlyphs">1.0</text>
<text id="yb0_0.9" x="60.56" y="596.80" font-size="23.6" font-family="'Liberation Sans', sans-serif" fill="#000" textLength="34.09" lengthAdjust="spacingAndGlyphs">0.9</text>
<text id="yb0_0.8" x="60.56" y="647.20" font-size="23.6" font-family="'Liberation Sans', sans-serif" fill="#000" textLength="34.09" lengthAdjust="spacingAndGlyphs">0.8</text>
<text id="yb1_1.0" x="60.73" y="700.30" font-size="23.6" font-family="'Liberation Sans', sans-serif" fill="#000" textLength="33.91" lengthAdjust="spacingAndGlyphs">1.0</text>
<text id="yb1_0.9" x="60.56" y="751.00" font-size="23.6" font-family="'Liberation Sans', sans-serif" fill="#000" textLength="34.09" lengthAdjust="spacingAndGlyphs">0.9</text>
<text id="yb1_0.8" x="60.56" y="801.70" font-size="23.6" font-family="'Liberation Sans', sans-serif" fill="#000" textLength="34.09" lengthAdjust="spacingAndGlyphs">0.8</text>
<text id="yb2_1.0" x="60.73" y="852.60" font-size="23.6" font-family="'Liberation Sans', sans-serif" fill="#000" textLength="33.91" lengthAdjust="spacingAndGlyphs">1.0</text>
<text id="yb2_0.9" x="60.56" y="902.85" font-size="23.6" font-family="'Liberation Sans', sans-serif" fill="#000" textLength="34.09" lengthAdjust="spacingAndGlyphs">0.9</text>
<text id="yb2_0.8" x="60.56" y="953.10" font-size="23.6" font-family="'Liberation Sans', sans-serif" fill="#000" textLength="34.09" lengthAdjust="spacingAndGlyphs">0.8</text>
<text id="rb0_15" x="620.02" y="546.20" font-size="23.4" font-family="'Liberation Sans', sans-serif" fill="#0a0ad2" textLength="25.82" lengthAdjust="spacingAndGlyphs">15</text>
<text id="rb0_10" x="620.02" y="601.30" font-size="23.4" font-family="'Liberation Sans', sans-serif" fill="#0a0ad2" textLength="25.82" lengthAdjust="spacingAndGlyphs">10</text>
<text id="rb0_5" x="619.62" y="656.40" font-size="23.4" font-family="'Liberation Sans', sans-serif" fill="#0a0ad2" textLength="12.59" lengthAdjust="spacingAndGlyphs">5</text>
<text id="rb1_20" x="618.55" y="700.20" font-size="23.4" font-family="'Liberation Sans', sans-serif" fill="#0a0ad2" textLength="27.33" lengthAdjust="spacingAndGlyphs">20</text>
<text id="rb1_15" x="620.02" y="740.00" font-size="23.4" font-family="'Liberation Sans', sans-serif" fill="#0a0ad2" textLength="25.82" lengthAdjust="spacingAndGlyphs">15</text>
<text id="rb1_10" x="620.02" y="779.80" font-size="23.4" font-family="'Liberation Sans', sans-serif" fill="#0a0ad2" textLength="25.82" lengthAdjust="spacingAndGlyphs">10</text>
<text id="rb1_5" x="619.62" y="819.60" font-size="23.4" font-family="'Liberation Sans', sans-serif" fill="#0a0ad2" textLength="12.59" lengthAdjust="spacingAndGlyphs">5</text>
<text id="rb2_16" x="620.02" y="853.50" font-size="23.4" font-family="'Liberation Sans', sans-serif" fill="#0a0ad2" textLength="25.82" lengthAdjust="spacingAndGlyphs">16</text>
<text id="rb2_12" x="619.93" y="908.20" font-size="23.4" font-family="'Liberation Sans', sans-serif" fill="#0a0ad2" textLength="26.94" lengthAdjust="spacingAndGlyphs">12</text>
<text id="rb2_8" x="619.62" y="962.90" font-size="23.4" font-family="'Liberation Sans', sans-serif" fill="#0a0ad2" textLength="12.59" lengthAdjust="spacingAndGlyphs">8</text>
<text id="xb_260" x="147.32" y="1007.40" font-size="24.6" font-family="'Liberation Sans', sans-serif" fill="#000" text-anchor="middle">260</text>
<text id="xb_280" x="240.76" y="1007.40" font-size="24.6" font-family="'Liberation Sans', sans-serif" fill="#000" text-anchor="middle">280</text>
<text id="xb_300" x="334.20" y="1007.40" font-size="24.6" font-family="'Liberation Sans', sans-serif" fill="#000" text-anchor="middle">300</text>
<text id="xb_320" x="427.64" y="1007.40" font-size="24.6" font-family="'Liberation Sans', sans-serif" fill="#000" text-anchor="middle">320</text>
<text id="xb_340" x="521.08" y="1007.40" font-size="24.6" font-family="'Liberation Sans', sans-serif" fill="#000" text-anchor="middle">340</text>
<text id="xb_360" x="614.52" y="1007.40" font-size="24.6" font-family="'Liberation Sans', sans-serif" fill="#000" text-anchor="middle">360</text>
<text id="b_temp" x="265.78" y="1034.70" font-size="24.8" font-family="'Liberation Sans', sans-serif" fill="#000" textLength="182.80" lengthAdjust="spacingAndGlyphs">Temperature (K)</text>
<text id="b1_main" x="163.59" y="667.20" font-size="20.4" font-family="'Liberation Sans', sans-serif" fill="#000" textLength="44.24" lengthAdjust="spacingAndGlyphs">5x10</text>
<text id="b1_sup" x="210.36" y="659.20" font-size="14.0" font-family="'Liberation Sans', sans-serif" fill="#000" textLength="13.13" lengthAdjust="spacingAndGlyphs">16</text>
<text id="b1_cm" x="231.19" y="667.20" font-size="20.4" font-family="'Liberation Sans', sans-serif" fill="#000" textLength="26.99" lengthAdjust="spacingAndGlyphs">cm</text>
<text id="b1_m2" x="258.28" y="660.40" font-size="13.8" font-family="'Liberation Sans', sans-serif" fill="#000" textLength="11.39" lengthAdjust="spacingAndGlyphs">-2</text>
<text id="b2_main" x="165.70" y="822.30" font-size="20.4" font-family="'Liberation Sans', sans-serif" fill="#000" textLength="42.11" lengthAdjust="spacingAndGlyphs">1x10</text>
<text id="b2_sup" x="210.34" y="814.40" font-size="14.0" font-family="'Liberation Sans', sans-serif" fill="#000" textLength="13.37" lengthAdjust="spacingAndGlyphs">16</text>
<text id="b2_cm" x="231.19" y="822.30" font-size="20.4" font-family="'Liberation Sans', sans-serif" fill="#000" textLength="27.20" lengthAdjust="spacingAndGlyphs">cm</text>
<text id="b2_m2" x="258.67" y="815.50" font-size="13.8" font-family="'Liberation Sans', sans-serif" fill="#000" textLength="11.62" lengthAdjust="spacingAndGlyphs">-2</text>
<text id="b3_main" x="163.62" y="973.20" font-size="20.4" font-family="'Liberation Sans', sans-serif" fill="#000" textLength="43.20" lengthAdjust="spacingAndGlyphs">5x10</text>
<text id="b3_sup" x="209.80" y="965.40" font-size="14.0" font-family="'Liberation Sans', sans-serif" fill="#000" textLength="12.27" lengthAdjust="spacingAndGlyphs">15</text>
<text id="b3_cm" x="228.55" y="973.20" font-size="20.4" font-family="'Liberation Sans', sans-serif" fill="#000" textLength="28.51" lengthAdjust="spacingAndGlyphs">cm</text>
<text id="b3_m2" x="255.63" y="966.60" font-size="13.8" font-family="'Liberation Sans', sans-serif" fill="#000" textLength="11.67" lengthAdjust="spacingAndGlyphs">-2</text>
<text id="c_lp" x="7.35" y="1078.70" font-size="32.7" font-family="'Liberation Sans', sans-serif" fill="#000" textLength="8.00" lengthAdjust="spacingAndGlyphs" stroke="#000" stroke-width="0.3">(</text>
<text id="c_let" x="17.50" y="1080.70" font-size="30.5" font-family="'Liberation Sans', sans-serif" fill="#000" textLength="13.87" lengthAdjust="spacingAndGlyphs" stroke="#000" stroke-width="0.3">c</text>
<text id="c_rp" x="35.20" y="1078.70" font-size="32.7" font-family="'Liberation Sans', sans-serif" fill="#000" textLength="7.75" lengthAdjust="spacingAndGlyphs" stroke="#000" stroke-width="0.3">)</text>
<text id="yc_0.2" x="52.40" y="1482.20" font-size="27.3" font-family="'Liberation Sans', sans-serif" fill="#000" textLength="37.96" lengthAdjust="spacingAndGlyphs">0.2</text>
<text id="yc_0.4" x="52.42" y="1390.08" font-size="27.3" font-family="'Liberation Sans', sans-serif" fill="#000" textLength="36.91" lengthAdjust="spacingAndGlyphs">0.4</text>
<text id="yc_0.6" x="52.42" y="1297.96" font-size="27.3" font-family="'Liberation Sans', sans-serif" fill="#000" textLength="36.91" lengthAdjust="spacingAndGlyphs">0.6</text>
<text id="yc_0.8" x="52.42" y="1205.84" font-size="27.3" font-family="'Liberation Sans', sans-serif" fill="#000" textLength="36.91" lengthAdjust="spacingAndGlyphs">0.8</text>
<text id="yc_1.0" x="52.38" y="1113.72" font-size="27.3" font-family="'Liberation Sans', sans-serif" fill="#000" textLength="38.18" lengthAdjust="spacingAndGlyphs">1.0</text>
<text id="c_phi1" x="112.74" y="1158.20" font-size="27" font-family="'Liberation Serif', serif" fill="#141428" textLength="18.87" lengthAdjust="spacingAndGlyphs">φ</text>
<text id="c_sub1" x="129.99" y="1168.30" font-size="14.2" font-family="'Liberation Sans', sans-serif" fill="#141428" textLength="42.13" lengthAdjust="spacingAndGlyphs">t-LRS</text>
<text id="c_phi2" x="112.55" y="1288.60" font-size="27" font-family="'Liberation Serif', serif" fill="#7a0a7a" textLength="16.27" lengthAdjust="spacingAndGlyphs">φ</text>
<text id="c_sub2" x="129.19" y="1298.40" font-size="14.2" font-family="'Liberation Sans', sans-serif" fill="#7a0a7a" textLength="45.14" lengthAdjust="spacingAndGlyphs">t-HRS</text>
<text id="c_phi3" x="110.03" y="1337.80" font-size="27" font-family="'Liberation Serif', serif" fill="#e0141e" textLength="18.24" lengthAdjust="spacingAndGlyphs">φ</text>
<text id="c_sub3" x="126.65" y="1344.80" font-size="14.2" font-family="'Liberation Sans', sans-serif" fill="#e0141e" textLength="48.61" lengthAdjust="spacingAndGlyphs">b-HRS</text>
<text id="c_353" x="547.96" y="1125.40" font-size="23" font-family="'Liberation Sans', sans-serif" fill="#000" textLength="62.39" lengthAdjust="spacingAndGlyphs">353 K</text>
<text id="c_253" x="547.76" y="1215.00" font-size="23" font-family="'Liberation Sans', sans-serif" fill="#000" textLength="62.60" lengthAdjust="spacingAndGlyphs">253 K</text>
<text id="c_x1" x="134.94" y="1506.80" font-size="25.2" font-family="'Liberation Sans', sans-serif" fill="#000" textLength="80.33" lengthAdjust="spacingAndGlyphs">5.0x10</text>
<text id="c_x1s" x="217.73" y="1494.00" font-size="14.3" font-family="'Liberation Sans', sans-serif" fill="#000" textLength="17.04" lengthAdjust="spacingAndGlyphs">15</text>
<text id="c_x2" x="306.64" y="1506.80" font-size="25.2" font-family="'Liberation Sans', sans-serif" fill="#000" textLength="81.64" lengthAdjust="spacingAndGlyphs">1.0x10</text>
<text id="c_x2s" x="390.08" y="1493.60" font-size="14.3" font-family="'Liberation Sans', sans-serif" fill="#000" textLength="17.73" lengthAdjust="spacingAndGlyphs">16</text>
<text id="c_x3" x="477.50" y="1506.80" font-size="25.2" font-family="'Liberation Sans', sans-serif" fill="#000" textLength="82.79" lengthAdjust="spacingAndGlyphs">5.0x10</text>
<text id="c_x3s" x="561.22" y="1493.40" font-size="14.3" font-family="'Liberation Sans', sans-serif" fill="#000" textLength="18.64" lengthAdjust="spacingAndGlyphs">16</text>
<text id="c_ti" x="261.52" y="1538.60" font-size="25.5" font-family="'Liberation Sans', sans-serif" fill="#000" textLength="171.15" lengthAdjust="spacingAndGlyphs">Ti fluence (cm</text>
<text id="c_ti2" x="430.92" y="1527.50" font-size="14.5" font-family="'Liberation Sans', sans-serif" fill="#000" textLength="16.45" lengthAdjust="spacingAndGlyphs">-2</text>
<text id="c_ti3" x="447.91" y="1538.60" font-size="25.5" font-family="'Liberation Sans', sans-serif" fill="#000" textLength="9.08" lengthAdjust="spacingAndGlyphs">)</text>
<g id="ones"><rect x="255.00" y="481.80" width="5.74" height="3.20" fill="#fff"/><rect x="263.08" y="481.80" width="5.14" height="3.20" fill="#fff"/><rect x="369.17" y="481.80" width="5.74" height="3.20" fill="#fff"/><rect x="377.25" y="481.80" width="5.14" height="3.20" fill="#fff"/><rect x="389.19" y="481.80" width="5.74" height="3.20" fill="#fff"/><rect x="397.27" y="481.80" width="5.14" height="3.20" fill="#fff"/><rect x="483.35" y="481.80" width="5.74" height="3.20" fill="#fff"/><rect x="491.43" y="481.80" width="5.14" height="3.20" fill="#fff"/><rect x="597.53" y="481.80" width="5.74" height="3.20" fill="#fff"/><rect x="605.61" y="481.80" width="5.14" height="3.20" fill="#fff"/><rect x="362.34" y="499.79" width="3.70" height="2.41" fill="#fff"/><rect x="367.60" y="499.79" width="3.33" height="2.41" fill="#fff"/><rect x="141.85" y="36.17" width="5.59" height="3.03" fill="#fff"/><rect x="149.73" y="36.17" width="5.01" height="3.03" fill="#fff"/><rect x="168.75" y="24.78" width="3.18" height="2.31" fill="#fff"/><rect x="173.29" y="24.78" width="2.87" height="2.31" fill="#fff"/><rect x="117.85" y="298.87" width="5.22" height="3.03" fill="#fff"/><rect x="125.22" y="298.87" width="4.68" height="3.03" fill="#fff"/><rect x="140.75" y="298.87" width="5.23" height="3.03" fill="#fff"/><rect x="148.12" y="298.87" width="4.69" height="3.03" fill="#fff"/><rect x="166.91" y="288.49" width="3.23" height="2.31" fill="#fff"/><rect x="171.52" y="288.49" width="2.92" height="2.31" fill="#fff"/><rect x="141.64" y="444.87" width="5.42" height="3.03" fill="#fff"/><rect x="149.28" y="444.87" width="4.86" height="3.03" fill="#fff"/><rect x="167.47" y="434.99" width="3.49" height="2.31" fill="#fff"/><rect x="172.44" y="434.99" width="3.15" height="2.31" fill="#fff"/><rect x="60.86" y="543.93" width="5.82" height="3.17" fill="#fff"/><rect x="69.05" y="543.93" width="5.21" height="3.17" fill="#fff"/><rect x="60.86" y="697.83" width="5.82" height="3.17" fill="#fff"/><rect x="69.05" y="697.83" width="5.21" height="3.17" fill="#fff"/><rect x="60.86" y="850.13" width="5.82" height="3.17" fill="#fff"/><rect x="69.05" y="850.13" width="5.21" height="3.17" fill="#fff"/><rect x="620.12" y="543.75" width="5.56" height="3.15" fill="#fff"/><rect x="627.95" y="543.75" width="4.98" height="3.15" fill="#fff"/><rect x="620.12" y="598.84" width="5.56" height="3.15" fill="#fff"/><rect x="627.95" y="598.84" width="4.98" height="3.15" fill="#fff"/><rect x="620.12" y="737.54" width="5.56" height="3.15" fill="#fff"/><rect x="627.95" y="737.54" width="4.98" height="3.15" fill="#fff"/><rect x="620.12" y="777.34" width="5.56" height="3.15" fill="#fff"/><rect x="627.95" y="777.34" width="4.98" height="3.15" fill="#fff"/><rect x="620.12" y="851.04" width="5.56" height="3.15" fill="#fff"/><rect x="627.95" y="851.04" width="4.98" height="3.15" fill="#fff"/><rect x="620.06" y="905.75" width="5.78" height="3.15" fill="#fff"/><rect x="628.20" y="905.75" width="5.17" height="3.15" fill="#fff"/><rect x="185.14" y="664.97" width="4.95" height="2.93" fill="#fff"/><rect x="192.13" y="664.97" width="4.44" height="2.93" fill="#fff"/><rect x="210.11" y="657.45" width="3.05" height="2.45" fill="#fff"/><rect x="214.47" y="657.45" width="2.75" height="2.45" fill="#fff"/><rect x="165.68" y="820.07" width="4.72" height="2.93" fill="#fff"/><rect x="172.36" y="820.07" width="4.24" height="2.93" fill="#fff"/><rect x="186.19" y="820.07" width="4.73" height="2.93" fill="#fff"/><rect x="192.87" y="820.07" width="4.24" height="2.93" fill="#fff"/><rect x="210.10" y="812.65" width="3.10" height="2.45" fill="#fff"/><rect x="214.52" y="812.65" width="2.80" height="2.45" fill="#fff"/><rect x="184.65" y="970.97" width="4.84" height="2.93" fill="#fff"/><rect x="191.49" y="970.97" width="4.34" height="2.93" fill="#fff"/><rect x="209.53" y="963.65" width="2.88" height="2.45" fill="#fff"/><rect x="213.65" y="963.65" width="2.60" height="2.45" fill="#fff"/><rect x="52.60" y="1110.97" width="6.50" height="3.45" fill="#fff"/><rect x="61.74" y="1110.97" width="5.81" height="3.45" fill="#fff"/><rect x="185.70" y="1504.21" width="6.35" height="3.29" fill="#fff"/><rect x="194.62" y="1504.21" width="5.68" height="3.29" fill="#fff"/><rect x="217.59" y="1492.23" width="3.82" height="2.47" fill="#fff"/><rect x="223.01" y="1492.23" width="3.44" height="2.47" fill="#fff"/><rect x="306.86" y="1504.21" width="6.44" height="3.29" fill="#fff"/><rect x="315.91" y="1504.21" width="5.76" height="3.29" fill="#fff"/><rect x="358.24" y="1504.21" width="6.44" height="3.29" fill="#fff"/><rect x="367.30" y="1504.21" width="5.76" height="3.29" fill="#fff"/><rect x="389.96" y="1491.83" width="3.96" height="2.47" fill="#fff"/><rect x="395.57" y="1491.83" width="3.56" height="2.47" fill="#fff"/><rect x="529.83" y="1504.21" width="6.53" height="3.29" fill="#fff"/><rect x="539.01" y="1504.21" width="5.84" height="3.29" fill="#fff"/><rect x="561.12" y="1491.63" width="4.14" height="2.47" fill="#fff"/><rect x="566.99" y="1491.63" width="3.72" height="2.47" fill="#fff"/></g>
</svg></body></html>
